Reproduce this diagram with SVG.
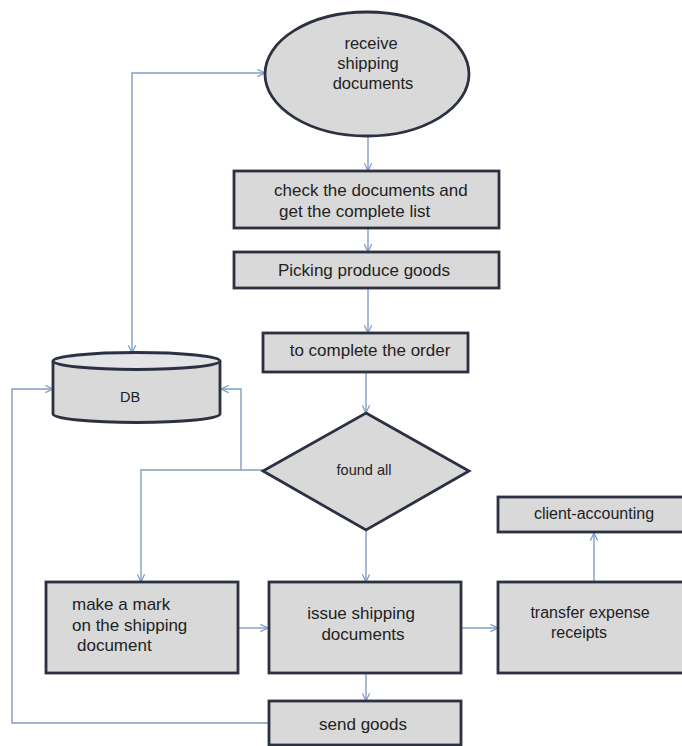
<svg xmlns="http://www.w3.org/2000/svg" width="682" height="746" viewBox="0 0 682 746">
<style>
.n{fill:#d9d9d9;stroke:#2b3140;stroke-width:2.8}
.t{font-family:"Liberation Sans",Arial,sans-serif;font-size:17px;fill:#222}
.s{font-size:16px}
.c{fill:none;stroke:#819dc6;stroke-width:1.4}
</style>
<defs>
<marker id="a" viewBox="0 0 10 10" refX="9.5" refY="5" markerWidth="9" markerHeight="9" markerUnits="userSpaceOnUse" orient="auto-start-reverse">
<path d="M1,1 L9.5,5 L1,9" fill="none" stroke="#819dc6" stroke-width="1.4"/>
</marker>
</defs>
<rect width="682" height="746" fill="#fff"/>
<g id="connectors">
<path class="c" d="M368,137 V171" marker-end="url(#a)"/>
<path class="c" d="M368,229 V252" marker-end="url(#a)"/>
<path class="c" d="M368,289 V333" marker-end="url(#a)"/>
<path class="c" d="M366,373 V413" marker-end="url(#a)"/>
<path class="c" d="M366,530 V582" marker-end="url(#a)"/>
<path class="c" d="M366,674 V701" marker-end="url(#a)"/>
<path class="c" d="M239,628 H268" marker-end="url(#a)"/>
<path class="c" d="M462,628 H498" marker-end="url(#a)"/>
<path class="c" d="M594,582 V533" marker-end="url(#a)"/>
<path class="c" d="M263,470 H141 V582" marker-end="url(#a)"/>
<path class="c" d="M241,470 V389 H221" marker-end="url(#a)"/>
<path class="c" d="M269,723 H12 V389 H53" marker-end="url(#a)"/>
<path class="c" d="M132,353 V73 H265" marker-start="url(#a)" marker-end="url(#a)"/>
</g>
<g id="receive">
<ellipse class="n" cx="367" cy="74" rx="102" ry="62"/>
<text class="t" text-anchor="middle" style="font-size:16.5px"><tspan x="371" y="48.5">receive</tspan><tspan x="368" y="68.5">shipping</tspan><tspan x="373" y="88.5">documents</tspan></text>
</g>
<g id="check">
<rect class="n" x="234" y="171" width="265" height="57"/>
<text class="t"><tspan x="274" y="195.5">check the documents and</tspan><tspan x="279" y="216.5">get the complete list</tspan></text>
</g>
<g id="picking">
<rect class="n" x="234" y="252" width="265" height="36"/>
<text class="t" x="364" y="276" text-anchor="middle">Picking produce goods</text>
</g>
<g id="complete">
<rect class="n" x="263" y="333" width="205" height="39"/>
<text class="t" x="370" y="356" text-anchor="middle">to complete the order</text>
</g>
<g id="db">
<path class="n" d="M53,361 V414 A83.5,8.5 0 0 0 220,414 V361"/>
<ellipse cx="136.5" cy="361" rx="83.5" ry="8.5" fill="#e4e4e8" stroke="#2b3140" stroke-width="2.8"/>
<text class="t" x="130" y="402" text-anchor="middle" style="font-size:14.5px">DB</text>
</g>
<g id="found">
<polygon class="n" points="366,413 469,471 366,530 263,471"/>
<text class="t" x="364" y="475" text-anchor="middle" style="font-size:14.5px">found all</text>
</g>
<g id="mark">
<rect class="n" x="46" y="582" width="192" height="91"/>
<text class="t"><tspan x="72" y="610">make a mark</tspan><tspan x="72" y="631">on the shipping</tspan><tspan x="77" y="651">document</tspan></text>
</g>
<g id="issue">
<rect class="n" x="269" y="582" width="192" height="91"/>
<text class="t" text-anchor="middle"><tspan x="361" y="619">issue shipping</tspan><tspan x="363" y="640">documents</tspan></text>
</g>
<g id="transfer">
<rect class="n" x="498" y="582" width="190" height="91"/>
<text class="t s"><tspan x="590" y="617.5" text-anchor="middle">transfer expense</tspan><tspan x="551" y="637.5">receipts</tspan></text>
</g>
<g id="client">
<rect class="n" x="498" y="497" width="190" height="35"/>
<text class="t s" x="594" y="519" text-anchor="middle">client-accounting</text>
</g>
<g id="send">
<rect class="n" x="269" y="701" width="192" height="44"/>
<text class="t" x="363" y="730" text-anchor="middle">send goods</text>
</g>
</svg>
